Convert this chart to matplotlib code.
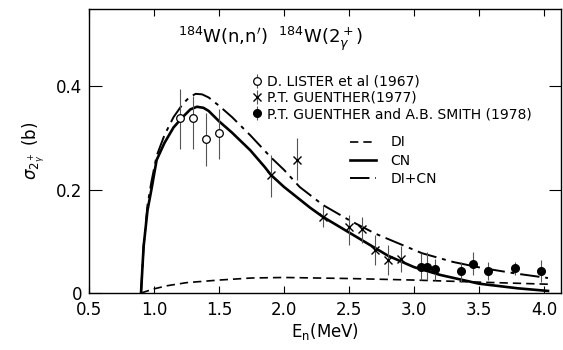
import matplotlib
matplotlib.use('Agg')
import matplotlib.pyplot as plt

# curves
cn_x = [0.90, 0.92, 0.95, 0.98, 1.02, 1.08, 1.15, 1.22, 1.28, 1.33, 1.38, 1.42, 1.50, 1.60, 1.74,
        1.85, 1.90, 2.00, 2.20, 2.30, 2.50, 2.70, 2.80, 3.00, 3.20, 3.50, 3.80, 4.03]
cn_y = [0.0, 0.09, 0.16, 0.20, 0.257, 0.29, 0.32, 0.34, 0.355, 0.360, 0.358, 0.352, 0.332, 0.310, 0.276,
        0.244, 0.228, 0.205, 0.165, 0.147, 0.117, 0.087, 0.072, 0.050, 0.035, 0.018, 0.009, 0.004]

sum_x = [0.90, 0.92, 0.95, 0.98, 1.02, 1.08, 1.15, 1.22, 1.27, 1.32, 1.37, 1.42, 1.50, 1.60, 1.74,
         1.90, 2.00, 2.12, 2.30, 2.50, 2.70, 2.87, 3.06, 3.30, 3.53, 3.80, 4.03]
sum_y = [0.0, 0.09, 0.17, 0.215, 0.265, 0.305, 0.34, 0.365, 0.378, 0.385, 0.384, 0.378, 0.362, 0.340, 0.305,
         0.262, 0.238, 0.205, 0.170, 0.141, 0.115, 0.097, 0.077, 0.060, 0.048, 0.037, 0.029]

di_x = [0.90, 1.00, 1.10, 1.25, 1.50, 1.75, 2.00, 2.50, 3.00, 3.50, 4.03]
di_y = [0.0, 0.008, 0.014, 0.020, 0.025, 0.029, 0.030, 0.028, 0.025, 0.021, 0.017]

# data points
lis_x = [1.2, 1.3, 1.4, 1.5]
lis_y = [0.339, 0.339, 0.298, 0.309]
lis_lo = [0.278, 0.278, 0.245, 0.259]
lis_hi = [0.395, 0.381, 0.348, 0.355]

g77_x = [1.9, 2.1, 2.3, 2.5, 2.6, 2.7, 2.8, 2.9]
g77_y = [0.228, 0.258, 0.147, 0.128, 0.123, 0.084, 0.064, 0.065]
g77_lo = [0.186, 0.218, 0.128, 0.093, 0.097, 0.054, 0.035, 0.041]
g77_hi = [0.267, 0.300, 0.170, 0.151, 0.147, 0.112, 0.093, 0.091]

gs_x = [3.05, 3.10, 3.16, 3.36, 3.45, 3.57, 3.78, 3.98]
gs_y = [0.051, 0.050, 0.046, 0.043, 0.056, 0.042, 0.048, 0.043]
gs_lo = [0.025, 0.025, 0.025, 0.022, 0.035, 0.025, 0.035, 0.022]
gs_hi = [0.077, 0.080, 0.065, 0.060, 0.080, 0.060, 0.060, 0.064]

xticks = [0.5, 1.0, 1.5, 2.0, 2.5, 3.0, 3.5, 4.0]
yticks = [0, 0.2, 0.4]
ytick_labels = ['0', '0.2', '0.4']


def err(y, lo, hi):
    return [[a - b for a, b in zip(y, lo)], [c - a for a, c in zip(y, hi)]]


fig = plt.figure(figsize=(5.63, 3.5), dpi=100)
ax = fig.add_axes([89 / 563, 57 / 350, 472 / 563, 284 / 350])

l_di, = ax.plot(di_x, di_y, color='k', lw=1.2, dashes=(5, 3), label='DI')
l_cn, = ax.plot(cn_x, cn_y, color='k', lw=1.9, label='CN')
l_sum, = ax.plot(sum_x, sum_y, color='k', lw=1.4, dashes=(10, 3, 2, 3), label='DI+CN')

ekw = dict(ecolor='#555555', elinewidth=0.8, capsize=0, ls='none')
e1 = ax.errorbar(lis_x, lis_y, yerr=err(lis_y, lis_lo, lis_hi), fmt='o', mfc='white', mec='k',
                 mew=0.9, ms=5.5, **ekw)
e2 = ax.errorbar(g77_x, g77_y, yerr=err(g77_y, g77_lo, g77_hi), fmt='x', color='k',
                 mew=1.0, ms=5.5, **ekw)
e3 = ax.errorbar(gs_x, gs_y, yerr=err(gs_y, gs_lo, gs_hi), fmt='o', color='k', ms=5.5, **ekw)

ax.set_xlim(0.5, 4.13)
ax.set_ylim(0, 0.549)
ax.set_xticks(xticks)
ax.set_yticks(yticks)
ax.set_yticklabels(ytick_labels)
ax.tick_params(axis='both', direction='in', top=True, right=True, labelsize=12)
ax.tick_params(axis='x', length=5, pad=6)
ax.tick_params(axis='y', length=9, pad=5)
for s in ax.spines.values():
    s.set_linewidth(1.0)

ax.set_xlabel('E$_\\mathregular{n}$(MeV)', fontsize=12, labelpad=1)
ax.set_ylabel('$\\sigma_{2^+_\\gamma}$ (b)', fontsize=12, labelpad=6)

ax.text(0.385, 0.895, '$^{184}$W(n,n$^\\prime$)  $^{184}$W(2$^+_\\gamma$)', transform=ax.transAxes,
        fontsize=13, ha='center', va='center')

leg1 = ax.legend([e1, e2, e3], ['D. LISTER et al (1967)', 'P.T. GUENTHER(1977)',
                                'P.T. GUENTHER and A.B. SMITH (1978)'],
                 loc='upper left', bbox_to_anchor=(0.345, 0.768), frameon=False, fontsize=10,
                 borderpad=0, borderaxespad=0, handlelength=0.7, handletextpad=0.4, labelspacing=0.15)
ax.add_artist(leg1)
ax.legend([l_di, l_cn, l_sum], ['DI', 'CN', 'DI+CN'], loc='upper left',
          bbox_to_anchor=(0.553, 0.555), frameon=False, fontsize=10, borderpad=0, borderaxespad=0,
          handlelength=1.9, handletextpad=1.0, labelspacing=0.3)

fig.savefig('out.png', dpi=100)
